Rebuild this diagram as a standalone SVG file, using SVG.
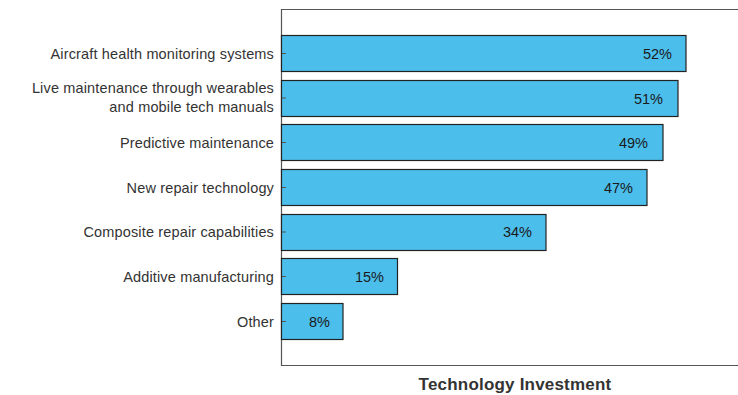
<svg xmlns="http://www.w3.org/2000/svg" width="738" height="395" viewBox="0 0 738 395">
<style>
.bar{fill:#4BBEEB;stroke:#222;stroke-width:1.2}
.cat{font-family:"Liberation Sans",Arial,sans-serif;font-size:14.5px;letter-spacing:0.15px;fill:#333;text-anchor:end}
.val{font-family:"Liberation Sans",Arial,sans-serif;font-size:14.5px;fill:#1a1a1a;text-anchor:end}
.axis{fill:none;stroke:#555;stroke-width:1.2}
.tick{stroke:#555;stroke-width:1}
.title{font-family:"Liberation Sans",Arial,sans-serif;font-size:17px;letter-spacing:0.2px;font-weight:bold;fill:#333;text-anchor:middle}
</style>
<rect width="738" height="395" fill="#fff"/>
<g id="axes">
<path class="axis" d="M738,9.5 H281.5 V365.5 H738"/>
</g>
<g id="bar1"><rect class="bar" x="281.5" y="35.5" width="404.5" height="36"/><line class="tick" x1="282" y1="53.5" x2="286" y2="53.5"/><text class="cat" x="274" y="58.5">Aircraft health monitoring systems</text><text class="val" x="672" y="58.5">52%</text></g>
<g id="bar2"><rect class="bar" x="281.5" y="80.5" width="396.5" height="36"/><line class="tick" x1="282" y1="98" x2="286" y2="98"/><text class="cat" x="274" y="93">Live maintenance through wearables </text><text class="cat" x="274" y="112">and mobile tech manuals</text><text class="val" x="663" y="103.5">51%</text></g>
<g id="bar3"><rect class="bar" x="281.5" y="124.5" width="381.5" height="36"/><line class="tick" x1="282" y1="142.5" x2="286" y2="142.5"/><text class="cat" x="274" y="147.5">Predictive maintenance</text><text class="val" x="648" y="147.5">49%</text></g>
<g id="bar4"><rect class="bar" x="281.5" y="169.5" width="365.5" height="36"/><line class="tick" x1="282" y1="187.5" x2="286" y2="187.5"/><text class="cat" x="274" y="192.5">New repair technology</text><text class="val" x="633" y="192.5">47%</text></g>
<g id="bar5"><rect class="bar" x="281.5" y="214.5" width="264.5" height="36"/><line class="tick" x1="282" y1="232" x2="286" y2="232"/><text class="cat" x="274" y="237">Composite repair capabilities</text><text class="val" x="532" y="237">34%</text></g>
<g id="bar6"><rect class="bar" x="281.5" y="258.5" width="116" height="36"/><line class="tick" x1="282" y1="276.5" x2="286" y2="276.5"/><text class="cat" x="274" y="281.5">Additive manufacturing</text><text class="val" x="384" y="281.5">15%</text></g>
<g id="bar7"><rect class="bar" x="281.5" y="303.5" width="61.5" height="36"/><line class="tick" x1="282" y1="321.5" x2="286" y2="321.5"/><text class="cat" x="274" y="326.5">Other</text><text class="val" x="330" y="326.5">8%</text></g>
<text class="title" x="515" y="390">Technology Investment</text>
</svg>
